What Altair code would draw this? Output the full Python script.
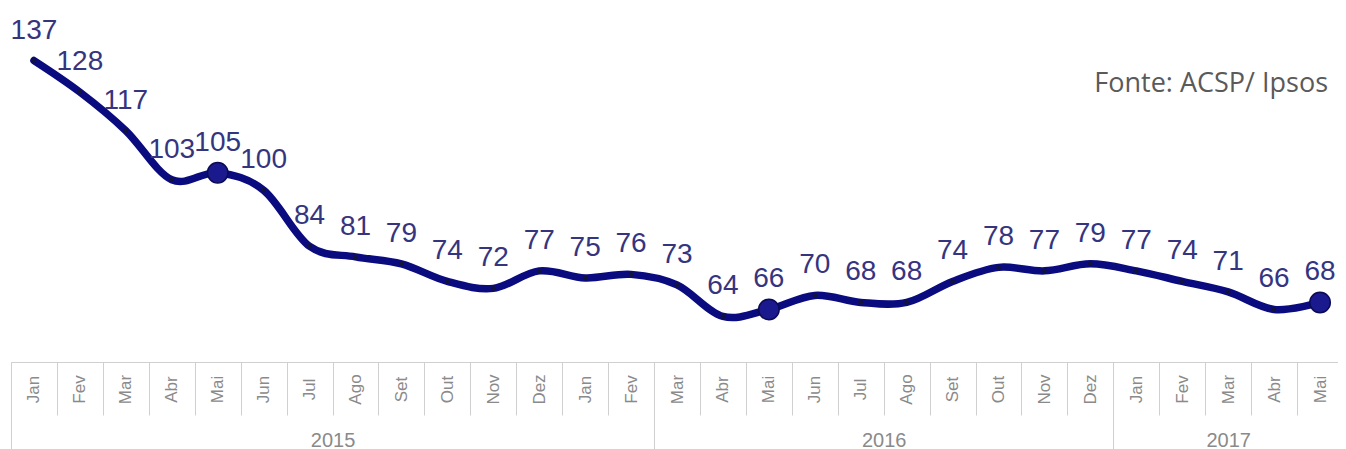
import altair as alt
import pandas as pd

# ---- data ----
months = ["Jan", "Fev", "Mar", "Abr", "Mai", "Jun", "Jul", "Ago", "Set", "Out", "Nov", "Dez",
          "Jan", "Fev", "Mar", "Abr", "Mai", "Jun", "Jul", "Ago", "Set", "Out", "Nov", "Dez",
          "Jan", "Fev", "Mar", "Abr", "Mai"]
month_years = ["2015"] * 12 + ["2016"] * 12 + ["2017"] * 5
values = [137, 128, 117, 103, 105, 100, 84, 81, 79, 74, 72, 77,
          75, 76, 73, 64, 66, 70, 68, 68, 74, 78, 77, 79,
          77, 74, 71, 66, 68]
big_marker_month = "Mai"

# year groups on the category axis, as drawn in the source chart
year_labels = ["2015", "2016", "2017"]
year_spans = [14, 10, 5]

source_note = "Fonte: ACSP/ Ipsos"

# ---- derived tables ----
keys = [f"{m}|{y}|{i}" for i, (m, y) in enumerate(zip(months, month_years))]
df = pd.DataFrame({"key": keys, "month": months, "value": values})
df["big"] = df["month"] == big_marker_month

bounds = [0]
for s in year_spans:
    bounds.append(bounds[-1] + s)
mids = [(a + b) / 2 for a, b in zip(bounds[:-1], bounds[1:])]
n = len(months)

expr = "'" + year_labels[-1] + "'"
for b, y in reversed(list(zip(bounds[1:-1], year_labels[:-1]))):
    expr = f"datum.value < {b} ? '{y}' : ({expr})"

GRID = "#d0d0d0"
AXIS_TXT = "#8a8a8a"
LINE = "#0b0b80"
LABEL = "#35357f"
FONT = "Liberation Sans"
X_RANGE = [0, 1332]

month_axis = alt.Axis(
    orient="bottom", title=None, grid=False,
    labelExpr="isString(datum.value) ? split(datum.value, '|')[0] : ''",
    labelAngle=-90, labelAlign="center", labelBaseline="middle",
    labelPadding=-26, labelFontSize=17, labelFont=FONT, labelColor=AXIS_TXT,
    labelOverlap=False,
    tickBand="extent", tickSize=53, tickColor=GRID, tickWidth=1,
    domainColor=GRID, domainWidth=1,
)

x_enc = alt.X("key:N", sort=keys,
              scale=alt.Scale(type="band", paddingInner=0, paddingOuter=0, range=X_RANGE),
              bandPosition=0.5, axis=month_axis)
y_enc = alt.Y("value:Q", scale=alt.Scale(domain=[51, 152], nice=False, zero=False), axis=None)

base = alt.Chart(df)

line = base.mark_line(interpolate="cardinal", strokeWidth=7.5, color=LINE,
                      strokeCap="round").encode(x=x_enc, y=y_enc)
dots = base.mark_circle(size=22, color="#12123a", opacity=1).encode(x=x_enc, y=y_enc)
big = base.transform_filter("datum.big").mark_circle(
    size=420, color="#1a1a8e", stroke="#0a0a55", strokeWidth=1.5, opacity=1
).encode(x=x_enc, y=y_enc)
labels = base.mark_text(dy=-22, baseline="alphabetic", fontSize=28, font=FONT,
                        color=LABEL).encode(x=x_enc, y=y_enc, text="value:Q")

note = alt.Chart(pd.DataFrame({"t": [source_note]})).mark_text(
    align="right", baseline="alphabetic", fontSize=27, font="Open Sans", color="#5a5a5a",
    dx=8
).encode(x=alt.XDatum(keys[-1], type="nominal", bandPosition=0.5),
         y=alt.YDatum(128), text="t:N")

inner = alt.layer(line, dots, big, labels, note)

xq = alt.Scale(domain=[0, n], nice=False, zero=False, range=X_RANGE)

sep = alt.Chart(pd.DataFrame({"b": bounds})).mark_point(opacity=0).encode(
    x=alt.X("b:Q", scale=xq, axis=alt.Axis(
        orient="bottom", values=bounds, labels=False, domain=False, grid=False,
        ticks=True, tickSize=87, tickColor=GRID, tickWidth=1, title=None)))

yrs = alt.Chart(pd.DataFrame({"m": mids, "year": year_labels})).mark_point(opacity=0).encode(
    x=alt.X("m:Q", scale=xq, axis=alt.Axis(
        orient="bottom", values=mids, labelExpr=expr, ticks=False, domain=False,
        grid=False, labelPadding=78, labelBaseline="middle", labelFontSize=20,
        labelFont=FONT, labelColor=AXIS_TXT, title=None, labelFlush=False)))

chart = alt.layer(inner, sep, yrs).resolve_scale(x="independent").properties(
    width=1327, height=354,
    padding={"left": 3, "top": 0, "right": 0, "bottom": 87},
    autosize="none",
    background="white",
).configure_view(stroke=None)

chart.save("out.html", embed_options={"renderer": "svg", "actions": False})
